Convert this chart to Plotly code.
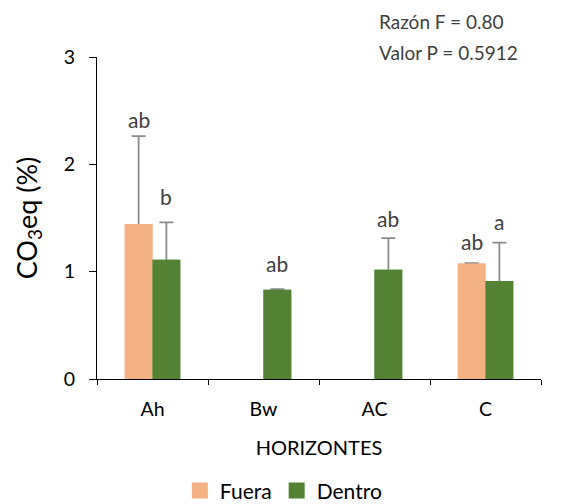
import plotly.graph_objects as go

categories = ["Ah", "Bw", "AC", "C"]
fuera = [1.444, None, None, 1.075]
dentro = [1.112, 0.832, 1.019, 0.912]
fuera_err = [0.818, 0, 0, 0.005]
dentro_err = [0.348, 0.005, 0.294, 0.358]
fuera_letters = ["ab", "", "", "ab"]
dentro_letters = ["b", "ab", "ab", "a"]
fuera_label_y = [2.336, None, None, 1.205]
dentro_label_y = [1.618, 0.996, 1.416, 1.392]
y_ticks = [0, 1, 2, 3]

FONT = "Lato, 'Open Sans', sans-serif"
C_FUERA = "#F4B183"
C_DENTRO = "#548235"
ERR = "#8C8C8C"
GREY_TXT = "#404040"

fig = go.Figure()
# bars with symmetric error bars (lower half hidden by the overlay bars below)
for name, vals, err, col, grp in (("Fuera", fuera, fuera_err, C_FUERA, "f"),
                                   ("Dentro", dentro, dentro_err, C_DENTRO, "d")):
    fig.add_trace(go.Bar(
        name=name, x=categories, y=vals, offsetgroup=grp, showlegend=False,
        marker=dict(color=col, line=dict(width=0)),
        error_y=dict(type="data", array=err, symmetric=True,
                     color=ERR, thickness=1.8, width=7),
    ))
for name, vals, col, grp in (("Fuera", fuera, C_FUERA, "f"),
                             ("Dentro", dentro, C_DENTRO, "d")):
    fig.add_trace(go.Bar(
        name=name, x=categories, y=vals, offsetgroup=grp, showlegend=False,
        marker=dict(color=col, line=dict(width=0)), hoverinfo="skip",
    ))
# legend entries
for name, col in (("Fuera", C_FUERA), ("Dentro", C_DENTRO)):
    fig.add_trace(go.Scatter(
        name=name, x=[None], y=[None], mode="markers",
        marker=dict(symbol="square", size=16, color=col, line=dict(width=0)),
    ))

annotations = []
for i, cat in enumerate(categories):
    for txt, ly, off in ((fuera_letters[i], fuera_label_y[i], -0.125),
                         (dentro_letters[i], dentro_label_y[i], 0.125)):
        if txt and ly is not None:
            annotations.append(dict(
                x=i + off, y=ly, xref="x", yref="y", text=txt, showarrow=False,
                yanchor="bottom", yshift=-6, font=dict(family=FONT, size=21, color=GREY_TXT),
            ))

W, H = 561, 504
ML, MR, MT, MB = 97, 20, 57, 125
pw, ph = W - ML - MR, H - MT - MB

for txt, py in (("Razón F = 0.80", 22), ("Valor P = 0.5912", 52)):
    annotations.append(dict(x=(377 - ML) / pw, y=(H - MB - py) / ph, xref="paper", yref="paper",
                            text=txt, showarrow=False, xanchor="left", yanchor="middle",
                            font=dict(family=FONT, size=19, color=GREY_TXT)))

fig.update_layout(
    width=W, height=H,
    margin=dict(l=ML, r=MR, t=MT, b=MB, pad=0, autoexpand=False),
    paper_bgcolor="white", plot_bgcolor="white",
    barmode="group", bargap=0.5, bargroupgap=0,
    font=dict(family=FONT, color="#000000"),
    annotations=annotations,
    showlegend=True,
    legend=dict(orientation="h", xref="container", yref="container",
                x=0.506, xanchor="center", y=0.026, yanchor="middle",
                font=dict(family=FONT, size=21, color="#000000"),
                itemwidth=30, traceorder="normal"),
    xaxis=dict(
        type="category", categoryorder="array", categoryarray=categories,
        range=[-0.5, 3.5], automargin=False,
        showline=True, linecolor="#000000", linewidth=1.2,
        ticks="outside", tickson="boundaries", ticklen=5, tickcolor="#000000",
        ticklabelstandoff=12,
        tickfont=dict(family=FONT, size=19.5, color="#000000"),
        title=dict(text="HORIZONTES", font=dict(family=FONT, size=20, color="#000000"), standoff=22),
        showgrid=False, zeroline=False,
    ),
    yaxis=dict(
        range=[0, 3], tickvals=y_ticks, automargin=False,
        showline=True, linecolor="#000000", linewidth=1.2,
        ticks="outside", ticklen=7, tickcolor="#000000",
        ticklabelstandoff=10,
        tickfont=dict(family=FONT, size=19.5, color="#000000"),
        title=dict(text="CO<sub>3</sub>eq (%)", font=dict(family=FONT, size=27, color="#000000"), standoff=18),
        showgrid=False, zeroline=False,
    ),
)

fig.write_html("out.html")
